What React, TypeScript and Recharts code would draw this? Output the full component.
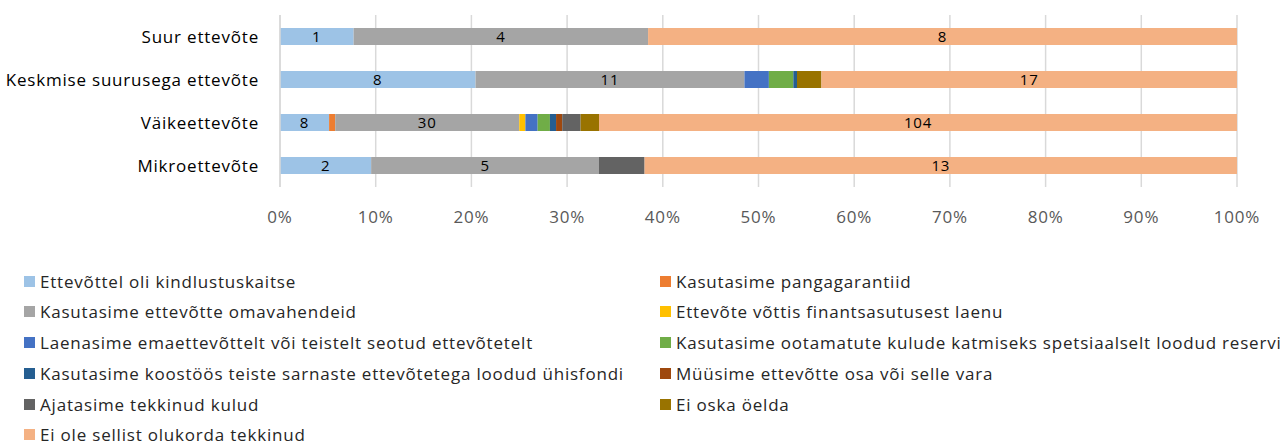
import {
  BarChart,
  Bar,
  XAxis,
  YAxis,
  CartesianGrid,
  Legend,
  LabelList,
} from 'recharts'

const categories = ['Suur ettevõte', 'Keskmise suurusega ettevõte', 'Väikeettevõte', 'Mikroettevõte']

const seriesNames = [
  'Ettevõttel oli kindlustuskaitse',
  'Kasutasime pangagarantiid',
  'Kasutasime ettevõtte omavahendeid',
  'Ettevõte võttis finantsasutusest laenu',
  'Laenasime emaettevõttelt või teistelt seotud ettevõtetelt',
  'Kasutasime ootamatute kulude katmiseks spetsiaalselt loodud reservi',
  'Kasutasime koostöös teiste sarnaste ettevõtetega loodud ühisfondi',
  'Müüsime ettevõtte osa või selle vara',
  'Ajatasime tekkinud kulud',
  'Ei oska öelda',
  'Ei ole sellist olukorda tekkinud',
]

const seriesColors = [
  '#9DC3E6',
  '#ED7D31',
  '#A5A5A5',
  '#FFC000',
  '#4472C4',
  '#70AD47',
  '#255E91',
  '#9E480E',
  '#636363',
  '#997300',
  '#F4B183',
]

// values per series, in category order (Suur, Keskmise, Väike, Mikro)
const kindlustus = [1, 8, 8, 2]
const pangagarantii = [0, 0, 1, 0]
const omavahendid = [4, 11, 30, 5]
const laen = [0, 0, 1, 0]
const emaettevote = [0, 1, 2, 0]
const reserv = [0, 1, 2, 0]
const uhisfond = [0, 0.15, 1, 0]
const muuk = [0, 0, 1, 0]
const ajatamine = [0, 0, 3, 1]
const eiOska = [0, 1, 3, 0]
const eiOle = [8, 17, 104, 13]

const seriesValues = [
  kindlustus,
  pangagarantii,
  omavahendid,
  laen,
  emaettevote,
  reserv,
  uhisfond,
  muuk,
  ajatamine,
  eiOska,
  eiOle,
]

// which series show a value label inside the bar
const labelled = [0, 2, 10]

const xTicks = [0, 0.1, 0.2, 0.3, 0.4, 0.5, 0.6, 0.7, 0.8, 0.9, 1]

const FONT = '"Open Sans", Lato, sans-serif'
const SPACING = '0.8px'

const rows = categories.map((name, i) => {
  const row: Record<string, string | number> = { name }
  seriesValues.forEach((vals, s) => {
    row[`s${s}`] = vals[i]
  })
  return row
})

function LegendBox() {
  return (
    <div
      style={{
        display: 'grid',
        gridTemplateColumns: '636px 620px',
        gridAutoRows: 17,
        rowGap: 13.8,
        paddingLeft: 24,
        fontFamily: FONT,
        fontSize: 17,
        letterSpacing: SPACING,
        lineHeight: 1,
        color: '#262626',
      }}
    >
      {seriesNames.map((n, i) => (
        <div key={n} style={{ display: 'flex', alignItems: 'center', height: 17, whiteSpace: 'nowrap' }}>
          <span
            style={{
              display: 'inline-block',
              width: 11,
              height: 11,
              background: seriesColors[i],
              marginRight: 5,
              flexShrink: 0,
            }}
          />
          {n}
        </div>
      ))}
    </div>
  )
}

export default function App() {
  return (
    <div style={{ position: 'absolute', left: 0, top: 0, width: 1283, height: 444, background: '#fff' }}>
      <BarChart
        width={1283}
        height={444}
        data={rows}
        layout="vertical"
        stackOffset="expand"
        margin={{ top: 15, right: 46, left: 0, bottom: 207 }}
        style={{ fontFamily: FONT }}
      >
        <CartesianGrid horizontal={false} stroke="#D9D9D9" strokeWidth={1.5} />
        <XAxis
          type="number"
          domain={[0, 1]}
          ticks={xTicks}
          tickFormatter={(v: number) => `${Math.round(v * 100)}%`}
          axisLine={false}
          tickLine={false}
          tickMargin={18}
          height={50}
          tick={{ fill: '#595959', fontSize: 17, letterSpacing: SPACING }}
        />
        <YAxis
          type="category"
          dataKey="name"
          width={280}
          axisLine={{ stroke: '#D9D9D9', strokeWidth: 1.5 }}
          tickLine={false}
          tickSize={0}
          tickMargin={21}
          tick={{ fill: '#000', fontSize: 17, letterSpacing: SPACING }}
        />
        <Legend
          layout="horizontal"
          align="center"
          verticalAlign="middle"
          wrapperStyle={{ top: 272.5, left: 0, width: 1283 }}
          content={() => <LegendBox />}
        />
        {seriesNames.map((n, s) => (
          <Bar
            key={n}
            dataKey={`s${s}`}
            name={n}
            stackId="a"
            fill={seriesColors[s]}
            barSize={17}
            isAnimationActive={false}
          >
            {labelled.includes(s) && (
              <LabelList
                dataKey={`s${s}`}
                position="center"
                fill="#000"
                fontSize={15}
                style={{ letterSpacing: SPACING }}
              />
            )}
          </Bar>
        ))}
      </BarChart>
    </div>
  )
}
